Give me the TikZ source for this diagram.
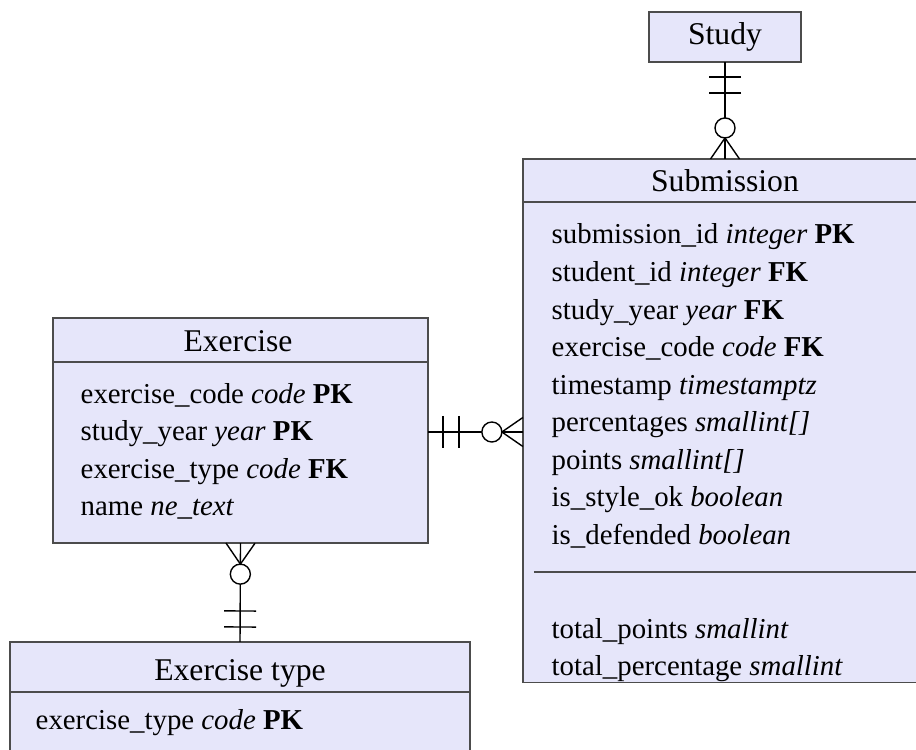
\documentclass[tikz,border=0pt]{standalone}
\usepackage{fontspec}
\setmainfont{Liberation Serif}
\usetikzlibrary{calc, positioning}

\definecolor{erfill}{RGB}{230,230,250}

% one-to-many link: bars at the first end, ring and crow's foot at the second
\newcommand{\crowlink}[2]{%
	\coordinate (one) at (#1);
	\coordinate (many) at (#2);
	\draw[link] (one) -- (many);
	\foreach \k in {0.15cm, 0.31cm} {
		\coordinate (bar) at ($(one)!\k!(many)$);
		\draw[link] ($(bar)!0.16cm!90:(many)$) -- ($(bar)!0.16cm!-90:(many)$);
	}
	\draw[link, fill=white] ($(many)!0.31cm!(one)$) circle[radius=0.1cm];
	\draw[link] ($(many)!0.145cm!90:(one)$) -- ($(many)!0.21cm!(one)$) -- ($(many)!0.145cm!-90:(one)$);
}

\begin{document}
\begin{tikzpicture}[x=0.01cm, y=-0.01cm]
	\tikzset{every node/.style={font=\fontsize{8.2}{10}\selectfont},
		box/.style={draw=black!70, fill=erfill, line width=0.4pt, inner sep=0pt, outer sep=0pt},
		title/.style={anchor=base, inner sep=0pt, font=\fontsize{9}{10}\selectfont},
		attr/.style={anchor=base west, inner sep=0pt},
		link/.style={line width=0.4pt, draw=black}}
	\useasboundingbox (0,0) rectangle (916,749);
	\clip (0,0) rectangle (916,749);

	% entities
	\node[box, minimum width=1.52cm, minimum height=0.50cm] (study) at (725,37) {};
	\node[box, minimum width=4.04cm, minimum height=0.43cm] (subhead) at (725,180.5) {};
	\node[box, minimum width=4.04cm, minimum height=4.80cm, below=0pt of subhead] (subbody) {};
	\node[box, minimum width=3.75cm, minimum height=0.44cm] (exhead) at (240.5,340) {};
	\node[box, minimum width=3.75cm, minimum height=1.81cm, below=0pt of exhead] (exbody) {};
	\node[box, minimum width=4.60cm, minimum height=0.50cm] (typehead) at (240,667) {};
	\node[box, minimum width=4.60cm, minimum height=1.08cm, below=0pt of typehead] (typebody) {};

	\node[title] (studyname) at (725,45) {Study};
	\node[title] (subname) at (725,192) {Submission};
	\node[title] (exname) at (238,351) {Exercise};
	\node[title] (typename) at (240,680) {Exercise type};

	% attributes
	\foreach \t [count=\i from 0] in {
		{submission\_id \textit{integer} \textbf{PK}},
		{student\_id \textit{integer} \textbf{FK}},
		{study\_year \textit{year} \textbf{FK}},
		{exercise\_code \textit{code} \textbf{FK}},
		{timestamp \textit{timestamptz}},
		{percentages \textit{smallint[]}},
		{points \textit{smallint[]}},
		{is\_style\_ok \textit{boolean}},
		{is\_defended \textit{boolean}}}
		\node[attr] (subattr\i) at (551,{244+37.5*\i}) {\t};
	\coordinate (cut) at (0,572);
	\draw[draw=black!70, line width=0.4pt] ($(subbody.west |- cut)+(11,0)$) -- ($(subbody.east |- cut)+(-11,0)$);
	\node[attr] (subtotal1) at (551,638) {total\_points \textit{smallint}};
	\node[attr] (subtotal2) at (551,675.5) {total\_percentage \textit{smallint}};

	\foreach \t [count=\i from 0] in {
		{exercise\_code \textit{code} \textbf{PK}},
		{study\_year \textit{year} \textbf{PK}},
		{exercise\_type \textit{code} \textbf{FK}},
		{name \textit{ne\_text}}}
		\node[attr] (exattr\i) at (80,{403+37.5*\i}) {\t};

	\node[attr] (typeattr) at (35,729) {exercise\_type \textit{code} \textbf{PK}};

	% relationships
	\crowlink{study.south}{subhead.north}
	\coordinate (mid) at (475,432);
	\crowlink{exbody.east |- mid}{subbody.west |- mid}
	\crowlink{typehead.north}{exbody.south}
\end{tikzpicture}
\end{document}
